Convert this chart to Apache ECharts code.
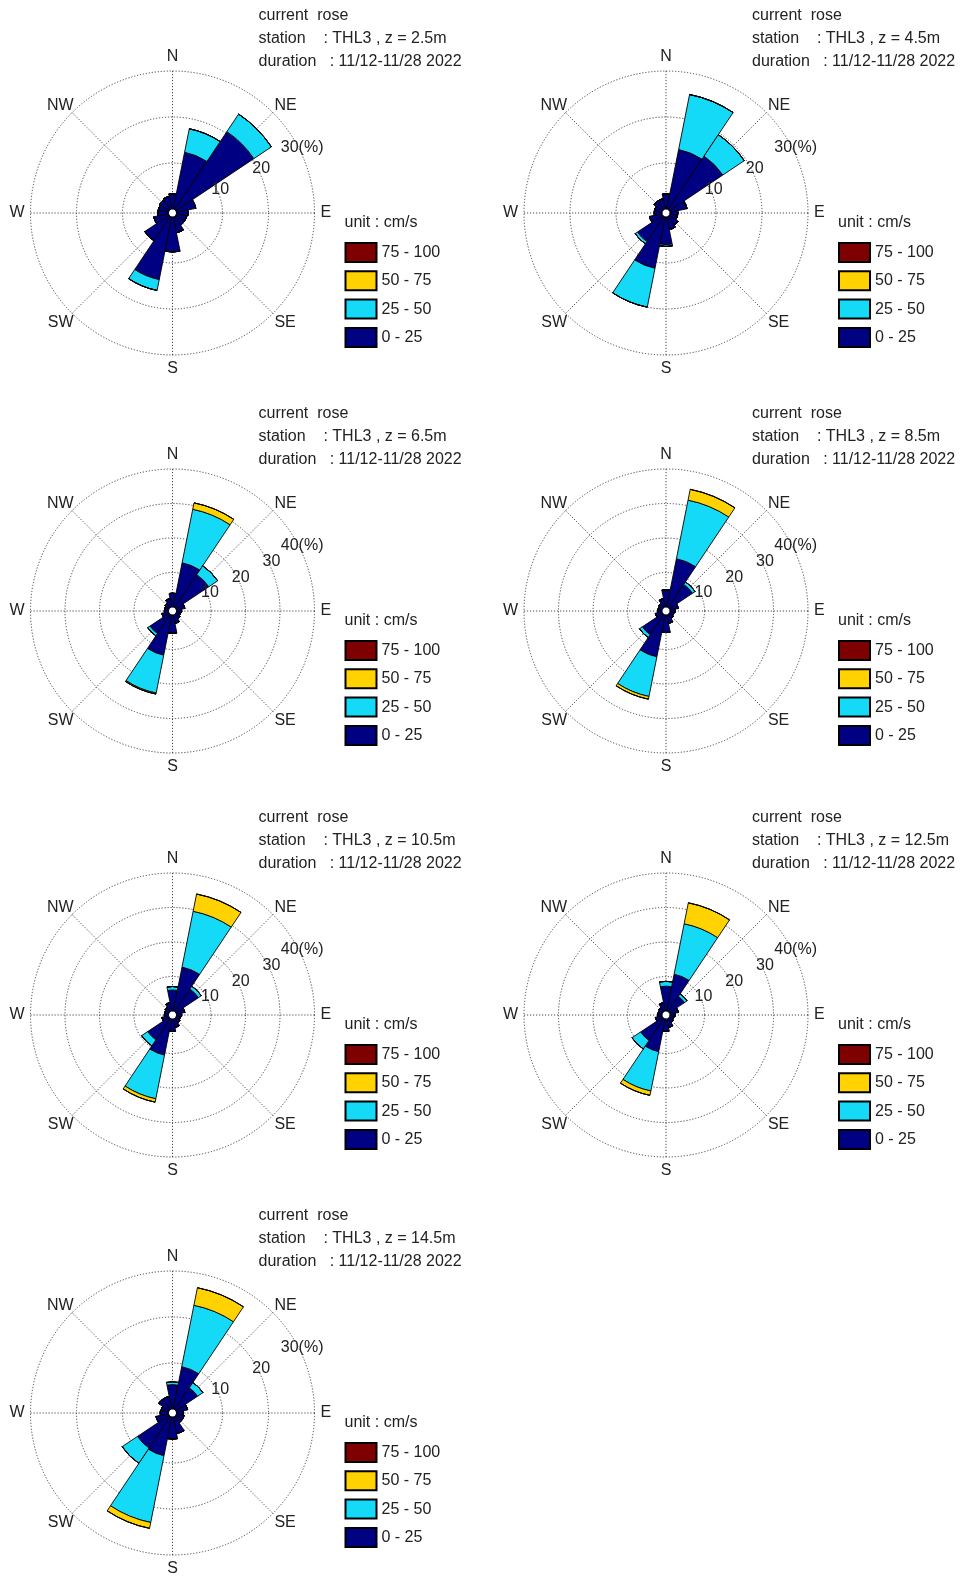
<!DOCTYPE html>
<html><head><meta charset="utf-8">
<script src="https://cdn.jsdelivr.net/npm/echarts@6/dist/echarts.min.js"></script>
<style>html,body{margin:0;padding:0;background:#fff}#c{width:964px;height:1576px}</style>
</head><body><div id="c"></div>
<script>
// ---------------- data ----------------
const directions = ['N','NNE','NE','ENE','E','ESE','SE','SSE','S','SSW','SW','WSW','W','WNW','NW','NNW'];
const compassLabels = ['N','NE','E','SE','S','SW','W','NW'];
const speedClasses = ['0 - 25','25 - 50','50 - 75','75 - 100'];
const legendOrder = ['75 - 100','50 - 75','25 - 50','0 - 25'];
const depths = ['2.5m','4.5m','6.5m','8.5m','10.5m','12.5m','14.5m'];
const ringMax = [30,30,40,40,40,40,30];
const stationName = 'THL3';
const durationText = '11/12-11/28 2022';

// frequency (%) per direction, per speed class (cm/s)
const z25_s0 = [3.3,12.6,20.4,4.3,2.5,2.3,2.3,3.5,7.6,13.9,6.4,3.3,2.3,2.3,2.5,2.8];
const z25_s1 = [0,5.2,4.6,0,0,0,0,0,0,2.4,0,0,0,0,0,0];
const z25_s2 = [0,0,0,0,0,0,0,0,0,0,0,0,0,0,0,0];
const z25_s3 = [0,0,0,0,0,0,0,0,0,0,0,0,0,0,0,0];

const z45_s0 = [3.3,13.2,14.0,3.8,1.7,1.7,2.3,2.8,6.0,11.4,6.6,2.8,1.7,1.7,2.3,2.3];
const z45_s1 = [0,12.2,5.6,0,0,0,0,0,0.4,8.6,0.6,0,0,0,0,0];
const z45_s2 = [0,0,0,0,0,0,0,0,0,0,0,0,0,0,0,0];
const z45_s3 = [0,0,0,0,0,0,0,0,0,0,0,0,0,0,0,0];

const z65_s0 = [4.0,13.1,11.5,2.5,1.5,1.2,1.5,2.5,5.3,11.9,6.7,2.0,1.2,1.2,1.5,2.5];
const z65_s1 = [0,15.8,3.1,0,0,0,0,0,0,11.2,0.8,0,0,0,0,0];
const z65_s2 = [0,1.9,0,0,0,0,0,0,0,0.3,0,0,0,0,0,0];
const z65_s3 = [0,0,0,0,0,0,0,0,0,0,0,0,0,0,0,0];

const z85_s0 = [5.0,14.3,8.1,2.5,1.5,1.2,1.5,2.5,5.1,12.4,7.1,2.0,1.2,1.2,1.5,2.5];
const z85_s1 = [0,17.3,0.9,0,0,0,0,0,0,11.7,1.0,0,0,0,0,0];
const z85_s2 = [0,3.2,0,0,0,0,0,0,0,0.8,0,0,0,0,0,0];
const z85_s3 = [0,0,0,0,0,0,0,0,0,0,0,0,0,0,0,0];

const z105_s0 = [6.1,13.0,7.9,2.5,1.5,1.2,1.5,2.5,3.6,10.7,7.5,2.0,1.2,1.2,1.5,2.5];
const z105_s1 = [1.0,16.5,1.0,0,0,0,0,0,0,12.9,2.1,0,0,0,0,0];
const z105_s2 = [0,5.1,0,0,0,0,0,0,0,1.0,0,0,0,0,0,0];
const z105_s3 = [0,0,0,0,0,0,0,0,0,0,0,0,0,0,0,0];

const z125_s0 = [7.2,10.9,5.3,2.5,1.5,1.2,1.5,2.5,3.6,9.7,7.7,2.0,1.2,1.2,1.5,2.5];
const z125_s1 = [1.4,14.9,0.9,0,0,0,0,0,0,11.6,3.0,0,0,0,0,0];
const z125_s2 = [0,6.2,0,0,0,0,0,0,0,1.3,0,0,0,0,0,0];
const z125_s3 = [0,0,0,0,0,0,0,0,0,0,0,0,0,0,0,0];

const z145_s0 = [5.3,9.4,5.7,2.5,1.5,1.7,1.7,3.7,4.8,8.6,8.3,2.8,1.8,1.7,2.8,2.8];
const z145_s1 = [0.6,13.6,1.4,0,0,0,0,0,0,14.8,4.0,0,0,0,0,0];
const z145_s2 = [0,3.9,0,0,0,0,0,0,0,1.3,0,0,0,0,0,0];
const z145_s3 = [0,0,0,0,0,0,0,0,0,0,0,0,0,0,0,0];

const roseData = [
  [z25_s0,z25_s1,z25_s2,z25_s3],
  [z45_s0,z45_s1,z45_s2,z45_s3],
  [z65_s0,z65_s1,z65_s2,z65_s3],
  [z85_s0,z85_s1,z85_s2,z85_s3],
  [z105_s0,z105_s1,z105_s2,z105_s3],
  [z125_s0,z125_s1,z125_s2,z125_s3],
  [z145_s0,z145_s1,z145_s2,z145_s3]
];

// ---------------- style / layout ----------------
const classColors = ['#000082','#14DAF7','#FFD200','#7F0000'];
const FONT = '"Liberation Sans", Arial, Helvetica, sans-serif';
const TXT = '#222';
const FS = 16;
const colX = [172.5, 666];
const rowY = [213, 611, 1015, 1413];
const R_IN = 4, R_OUT = 142;
const gridLine = {color:'#333', width:0.9, type:[1.2,1.8]};

const polar=[], angleAxis=[], radiusAxis=[], series=[], legend=[], title=[];

roseData.forEach((sets, i) => {
  const cx = colX[i % 2], cy = rowY[Math.floor(i / 2)];
  const max = ringMax[i];
  let p = polar.length;
  // grid polar (+ cardinal labels)
  polar.push({center:[cx,cy], radius:[R_IN,R_OUT]});
  angleAxis.push({polarIndex:p, type:'value', min:0, max:360, interval:45, startAngle:90, clockwise:true,
    axisLine:{show:false}, axisTick:{show:false},
    splitLine:{show:true, lineStyle:gridLine},
    axisLabel:{margin:6, fontSize:FS, color:TXT, fontFamily:FONT,
      formatter: v => (v < 360 && v % 90 === 0 ? compassLabels[Math.round(v/45)] : '')}});
  radiusAxis.push({polarIndex:p, type:'value', min:0, max:max, interval:10,
    axisLine:{show:false}, axisTick:{show:false}, axisLabel:{show:false},
    splitLine:{show:true, lineStyle:gridLine}});
  // diagonal compass labels
  p = polar.length;
  polar.push({center:[cx+1.5,cy+1.5], radius:[R_IN,R_OUT-6]});
  angleAxis.push({polarIndex:p, type:'value', min:0, max:360, interval:45, startAngle:90, clockwise:true,
    axisLine:{show:false}, axisTick:{show:false}, splitLine:{show:false},
    axisLabel:{margin:6, fontSize:FS, color:TXT, fontFamily:FONT,
      formatter: v => (v < 360 && v % 90 !== 0 ? compassLabels[Math.round(v/45)] : '')}});
  radiusAxis.push({polarIndex:p, type:'value', min:0, max:max, show:false});
  // ring label polar
  p = polar.length;
  polar.push({center:[cx,cy+1], radius:[R_IN+3.5,R_OUT+3.5]});
  angleAxis.push({polarIndex:p, type:'value', min:0, max:360, startAngle:27, show:false});
  radiusAxis.push({polarIndex:p, type:'value', min:0, max:max, interval:10, z:10,
    axisLine:{show:false}, axisTick:{show:false}, splitLine:{show:false},
    axisLabel:{show:true, margin:0, align:'center', verticalAlign:'middle', fontSize:FS, color:TXT, fontFamily:FONT,
      formatter: v => (v === 0 ? '' : (v === max ? v + '(%)' : String(v)))}});
  // bar polar
  p = polar.length;
  polar.push({center:[cx,cy], radius:[R_IN,R_OUT]});
  angleAxis.push({polarIndex:p, type:'category', data:directions, startAngle:90+11.25, clockwise:true, show:false, boundaryGap:true});
  radiusAxis.push({polarIndex:p, type:'value', min:0, max:max, show:false});
  sets.forEach((vals, k) => {
    series.push({type:'bar', coordinateSystem:'polar', polarIndex:p, stack:'rose'+i,
      name:speedClasses[k], data:vals, barCategoryGap:'0%', silent:true,
      itemStyle:{color:classColors[k], borderColor:'#000', borderWidth:0.9}});
  });
  // header text
  title.push({left:cx+86, top:cy-209, padding:0,
    text:'current  rose\nstation    : ' + stationName + ' , z = ' + depths[i] + '\nduration   : ' + durationText,
    textStyle:{fontSize:FS, fontWeight:'normal', color:TXT, lineHeight:23, fontFamily:FONT}});
  title.push({left:cx+172, top:cy+2, padding:0, text:'unit : cm/s',
    textStyle:{fontSize:FS, fontWeight:'normal', color:TXT, fontFamily:FONT}});
  legend.push({left:cx+172, top:cy+29, padding:0, orient:'vertical', icon:'rect',
    itemWidth:31, itemHeight:19, itemGap:7.3, selectedMode:false, data:legendOrder,
    textStyle:{fontSize:FS, lineHeight:19, color:TXT, fontFamily:FONT}});
});

const chart = echarts.init(document.getElementById('c'), null, {renderer:'canvas'});
chart.setOption({animation:false, backgroundColor:'#fff', title, legend, polar, angleAxis, radiusAxis, series});
</script></body></html>
